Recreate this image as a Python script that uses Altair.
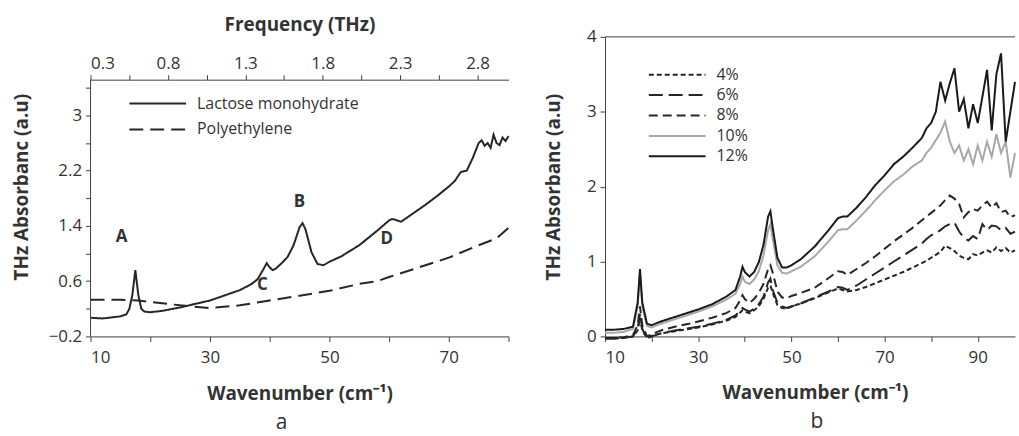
import altair as alt
import pandas as pd

FONT = "Open Sans"
INK = "#262626"
AXIS = "#404040"
LEGEND_LINE = "M-5.7,0H5.7"   # long horizontal stroke used as legend symbol

# ---------------- panel a data ----------------
L_X = [10, 12, 14, 15, 16, 16.5, 17, 17.5, 18, 18.5, 19, 20, 22, 25, 28, 30, 32, 35, 37, 38,
       39, 39.5, 40, 40.5, 41, 42, 43, 44, 45, 45.5, 46, 47, 48, 49, 50, 52, 55, 58, 60, 60.5,
       61, 62, 64, 66, 68, 70, 71, 72, 73, 74, 75, 75.5, 76, 76.5, 77, 77.5, 78, 78.5, 79, 79.5, 80]
LACTOSE = [0.07, 0.06, 0.08, 0.09, 0.12, 0.2, 0.4, 0.76, 0.4, 0.2, 0.16, 0.15, 0.17, 0.22, 0.28, 0.32, 0.38, 0.47, 0.56, 0.63,
           0.78, 0.86, 0.8, 0.76, 0.78, 0.86, 0.95, 1.12, 1.38, 1.44, 1.35, 1.02, 0.85, 0.83, 0.88, 0.96, 1.12, 1.33, 1.48, 1.5,
           1.49, 1.46, 1.58, 1.7, 1.83, 1.97, 2.05, 2.18, 2.2, 2.38, 2.6, 2.64, 2.56, 2.6, 2.53, 2.72, 2.6, 2.57, 2.68, 2.63, 2.7]
PE_X = [10, 15, 18, 20, 25, 30, 35, 40, 45, 50, 55, 58, 60, 65, 70, 75, 78, 80]
PE = [0.33, 0.33, 0.32, 0.30, 0.25, 0.21, 0.25, 0.32, 0.39, 0.46, 0.56, 0.6, 0.66, 0.8, 0.94, 1.12, 1.22, 1.37]
LEFT_SAMPLES = ["Lactose monohydrate", "Polyethylene"]

ANNOT_TEXT = ["A", "B", "C", "D"]
ANNOT_X = [15.2, 45.0, 38.8, 59.6]
ANNOT_Y = [1.24, 1.74, 0.55, 1.21]

FREQ_DOMAIN = [0.3, 3.0]
FREQ_TICKS = [0.3, 0.55, 0.8, 1.05, 1.3, 1.55, 1.8, 2.05, 2.3, 2.55, 2.8]
L_XTICKS = [10, 20, 30, 40, 50, 60, 70, 80]
L_YTICKS = [-0.2, 0.2, 0.6, 1.0, 1.4, 1.8, 2.2, 2.6, 3.0, 3.4]
L_YDOMAIN = [-0.2, 4.137]     # plot frame; the visible axes stop at L_YTOP
L_YTOP = 3.52

# ---------------- panel b data ----------------
R_X = [10, 12, 14, 16, 17, 17.5, 18, 19, 20, 22, 25, 28, 30, 33, 36, 38, 39, 39.5, 40, 41,
       42, 43, 44, 45, 45.5, 46, 47, 48, 49, 50, 52, 55, 58, 60, 61, 62, 64, 66, 68, 70,
       72, 74, 76, 78, 79, 80, 81, 82, 83, 84, 85, 86, 87, 88, 89, 90, 91, 92, 93, 94,
       95, 96, 97, 98]
C4 = [-0.02, -0.02, -0.02, 0.0, 0.08, 0.25, 0.08, -0.02, 0.01, 0.04, 0.07, 0.1, 0.12, 0.16, 0.21, 0.26, 0.32, 0.35, 0.33, 0.31,
      0.35, 0.4, 0.5, 0.65, 0.68, 0.58, 0.42, 0.38, 0.37, 0.4, 0.44, 0.51, 0.59, 0.64, 0.62, 0.6, 0.62, 0.66, 0.71, 0.76,
      0.81, 0.86, 0.92, 0.98, 1.01, 1.05, 1.09, 1.13, 1.21, 1.18, 1.14, 1.08, 1.05, 1.03, 1.1, 1.08, 1.12, 1.15, 1.12, 1.19,
      1.14, 1.18, 1.12, 1.15]
C6 = [-0.03, -0.03, -0.02, 0.0, 0.1, 0.3, 0.1, -0.03, 0.0, 0.04, 0.08, 0.11, 0.13, 0.17, 0.22, 0.28, 0.34, 0.38, 0.36, 0.33,
      0.37, 0.43, 0.53, 0.72, 0.77, 0.62, 0.45, 0.4, 0.38, 0.4, 0.44, 0.52, 0.6, 0.66, 0.65, 0.62, 0.68, 0.76, 0.84, 0.92,
      1.0, 1.08, 1.16, 1.24, 1.3, 1.35, 1.38, 1.42, 1.47, 1.5, 1.52, 1.4, 1.32, 1.28, 1.34, 1.3, 1.5, 1.42, 1.48, 1.47,
      1.42, 1.45, 1.37, 1.4]
C8 = [-0.02, -0.02, -0.01, 0.02, 0.15, 0.4, 0.15, 0.0, 0.03, 0.08, 0.13, 0.17, 0.2, 0.25, 0.31, 0.38, 0.48, 0.55, 0.5, 0.45,
      0.5, 0.58, 0.7, 0.9, 0.95, 0.85, 0.6, 0.52, 0.51, 0.54, 0.58, 0.65, 0.78, 0.87, 0.86, 0.82, 0.9, 0.98, 1.07, 1.17,
      1.27, 1.36, 1.45, 1.55, 1.6, 1.65, 1.7, 1.75, 1.82, 1.88, 1.84, 1.77, 1.59, 1.66, 1.7, 1.68, 1.75, 1.8, 1.72, 1.78,
      1.66, 1.68, 1.59, 1.62]
C10 = [0.05, 0.05, 0.06, 0.1, 0.4, 0.82, 0.4, 0.14, 0.12, 0.17, 0.23, 0.29, 0.33, 0.4, 0.49, 0.57, 0.7, 0.8, 0.73, 0.7,
       0.76, 0.87, 1.08, 1.42, 1.5, 1.3, 0.95, 0.85, 0.84, 0.87, 0.93, 1.07, 1.27, 1.42, 1.43, 1.43, 1.55, 1.68, 1.82, 1.95,
       2.07, 2.16, 2.27, 2.35, 2.45, 2.52, 2.62, 2.72, 2.87, 2.6, 2.45, 2.55, 2.35, 2.5, 2.3, 2.55, 2.35, 2.6, 2.4, 2.7,
       2.45, 2.6, 2.12, 2.45]
C12 = [0.09, 0.09, 0.1, 0.13, 0.45, 0.9, 0.45, 0.17, 0.15, 0.2, 0.26, 0.32, 0.36, 0.43, 0.53, 0.62, 0.8, 0.93, 0.86, 0.8,
       0.86, 0.99, 1.22, 1.6, 1.67, 1.45, 1.05, 0.92, 0.92, 0.95, 1.03, 1.2, 1.42, 1.58, 1.6, 1.6, 1.72, 1.86, 2.02, 2.15,
       2.3, 2.4, 2.52, 2.65, 2.78, 2.85, 3.0, 3.4, 3.15, 3.38, 3.58, 3.0, 3.17, 2.78, 3.1, 2.85, 3.2, 3.56, 2.75, 3.5,
       3.78, 2.6, 3.0, 3.4]
R_SERIES = ["4%", "6%", "8%", "10%", "12%"]
R_VALUES = [C4, C6, C8, C10, C12]
R_DASH = [[5, 3], [14, 6], [9, 5], [1, 0], [1, 0]]
R_COLOR = [INK, INK, INK, "#a8a8a8", "#1a1a1a"]
R_XTICKS = [10, 20, 30, 40, 50, 60, 70, 80, 90]
R_YTICKS = [0, 0.5, 1, 1.5, 2, 2.5, 3, 3.5, 4]

# ---------------- frames ----------------
left_df = pd.concat([
    pd.DataFrame({"wn": L_X, "absb": LACTOSE, "sample": LEFT_SAMPLES[0]}),
    pd.DataFrame({"wn": PE_X, "absb": PE, "sample": LEFT_SAMPLES[1]}),
], ignore_index=True)
annot_df = pd.DataFrame({"wn": ANNOT_X, "absb": ANNOT_Y, "lab": ANNOT_TEXT})
freq_df = pd.DataFrame({"freq": FREQ_DOMAIN})
yline_df = pd.DataFrame({"wn": [L_XTICKS[0]], "absb": [L_YDOMAIN[0]], "top": [L_YTOP]})
right_df = pd.concat(
    [pd.DataFrame({"wn": R_X, "absb": v, "conc": s}) for s, v in zip(R_SERIES, R_VALUES)],
    ignore_index=True,
)

label_kw = dict(labelFont=FONT, labelFontSize=17, labelColor="#333333",
                titleFont=FONT, titleFontSize=19, titleFontWeight="bold", titleColor="#333333",
                domainColor=AXIS, tickColor=AXIS, tickSize=5, grid=False)
legend_kw = dict(title=None, orient="none", symbolType=LEGEND_LINE, symbolSize=100,
                 symbolStrokeWidth=2, labelFont=FONT, labelFontSize=16, labelColor="#333333",
                 labelOffset=31.5, labelLimit=400)

# ---------------- panel a ----------------
xL = alt.X("wn:Q", scale=alt.Scale(domain=[10, 80], nice=False, zero=False),
           axis=alt.Axis(values=L_XTICKS, labelExpr="datum.value % 20 == 10 ? datum.label : ''",
                         title="Wavenumber (cm⁻¹)", titleY=57, titleBaseline="middle",
                         labelPadding=8, **label_kw))
yL = alt.Y("absb:Q", scale=alt.Scale(domain=L_YDOMAIN, nice=False, zero=False),
           axis=alt.Axis(values=L_YTICKS, domain=False,
                         labelExpr="abs((datum.value + 0.2) / 0.8 - round((datum.value + 0.2) / 0.8)) < 0.01 ? format(datum.value, '~g') : ''",
                         title="THz Absorbanc (a.u)", titleX=-69, titleBaseline="middle",
                         labelPadding=4, **label_kw))

left_lines = alt.Chart(left_df).mark_line(strokeWidth=2, color=INK).encode(
    x=xL, y=yL,
    strokeDash=alt.StrokeDash("sample:N",
                              scale=alt.Scale(domain=LEFT_SAMPLES, range=[[1, 0], [14, 7]]),
                              legend=alt.Legend(legendX=59.5, legendY=59, rowPadding=10,
                                                symbolStrokeColor=INK, **legend_kw)),
)
left_text = alt.Chart(annot_df).mark_text(font=FONT, fontSize=17, fontWeight="bold", color="#333333").encode(
    x=xL, y=yL, text="lab:N")
left_yline = alt.Chart(yline_df).mark_rule(color=AXIS, strokeWidth=1).encode(x=xL, y=yL, y2="top:Q")
left_main = alt.layer(left_lines, left_text, left_yline)

freq_axis = alt.Chart(freq_df).mark_point(opacity=0).encode(
    x=alt.X("freq:Q", scale=alt.Scale(domain=FREQ_DOMAIN, nice=False, zero=False),
            axis=alt.Axis(orient="top", offset=-43, values=FREQ_TICKS,
                          labelExpr="round(datum.value * 100) % 50 == 30 ? format(datum.value, '.1f') : ''",
                          title="Frequency (THz)", titleY=-55, titleBaseline="middle",
                          labelPadding=2, **label_kw)))

left = alt.layer(left_main, freq_axis).resolve_scale(x="independent").properties(
    width=420, height=301,
    title=alt.TitleParams("a", orient="bottom", font=FONT, fontSize=21, fontWeight="normal",
                          color="#333333", dx=-18, offset=26, baseline="alphabetic"))

# ---------------- panel b ----------------
xR = alt.X("wn:Q", scale=alt.Scale(domain=[10, 98], nice=False, zero=False),
           axis=alt.Axis(values=R_XTICKS, labelExpr="datum.value % 20 == 10 ? datum.label : ''",
                         title="Wavenumber (cm⁻¹)", titleY=56, titleBaseline="middle", titleX=211,
                         labelPadding=8, **label_kw))
yR = alt.Y("absb:Q", scale=alt.Scale(domain=[0, 4], nice=False, zero=False),
           axis=alt.Axis(values=R_YTICKS,
                         labelExpr="datum.value % 1 == 0 ? format(datum.value, '~g') : ''",
                         title="THz Absorbanc (a.u)", titleX=-52, titleBaseline="middle",
                         labelPadding=4, **label_kw))
right_lines = alt.Chart(right_df).mark_line(strokeWidth=2).encode(
    x=xR, y=yR,
    strokeDash=alt.StrokeDash("conc:N", scale=alt.Scale(domain=R_SERIES, range=R_DASH), legend=None),
    color=alt.Color("conc:N", scale=alt.Scale(domain=R_SERIES, range=R_COLOR),
                    legend=alt.Legend(legendX=64.5, legendY=30, rowPadding=4.5, **legend_kw)),
)
top_border = alt.Chart(pd.DataFrame({"v": [4]})).mark_rule(color=AXIS, strokeWidth=1).encode(y=alt.Y("v:Q"))
right = alt.layer(right_lines, top_border).properties(
    width=412, height=301,
    title=alt.TitleParams("b", orient="bottom", font=FONT, fontSize=21, fontWeight="normal",
                          color="#333333", dx=7, offset=26, baseline="alphabetic"))

chart = alt.hconcat(left, right, spacing=97, bounds="flush").properties(
    padding={"left": 13, "top": 15, "right": 0, "bottom": 0}
).configure_view(stroke=None).resolve_scale(strokeDash="independent", color="independent")

chart.save("out.html", embed_options={"renderer": "svg", "actions": False})
